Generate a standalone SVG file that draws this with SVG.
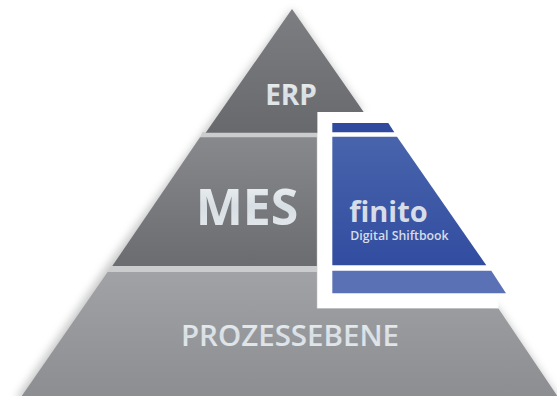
<svg xmlns="http://www.w3.org/2000/svg" width="557" height="396" viewBox="0 0 557 396">
<defs>
<linearGradient id="gErp" x1="0" y1="0" x2="0" y2="1"><stop offset="0" stop-color="#7d7e81"/><stop offset="1" stop-color="#68696c"/></linearGradient>
<linearGradient id="gMes" x1="0" y1="0" x2="0" y2="1"><stop offset="0" stop-color="#88898c"/><stop offset="1" stop-color="#6b6c6f"/></linearGradient>
<linearGradient id="gPro" x1="0" y1="0" x2="0" y2="1"><stop offset="0" stop-color="#a0a2a5"/><stop offset="1" stop-color="#8c8d91"/></linearGradient>
<linearGradient id="gBlue" x1="0" y1="0" x2="0" y2="1"><stop offset="0" stop-color="#4864ac"/><stop offset="1" stop-color="#324da0"/></linearGradient>
<linearGradient id="gText" x1="0" y1="0" x2="0" y2="1"><stop offset="0" stop-color="#f4f6f7"/><stop offset="0.5" stop-color="#d8dfe4"/><stop offset="1" stop-color="#e6ebee"/></linearGradient>
<filter id="soft" x="-10%" y="-10%" width="120%" height="120%"><feGaussianBlur stdDeviation="4"/></filter>
</defs>
<style>
text{font-family:"Open Sans","Noto Sans","Liberation Sans",sans-serif;font-weight:600;text-anchor:middle}
.lbl{fill:url(#gText)}
.fin{fill:#d6dde9}
</style>
<rect width="557" height="396" fill="#ffffff"/>
<path id="shadow" d="M292 9L363.7 112H340V290H470L498.4 308.6L560 400H15L104 270Z" fill="#8f9092" opacity="0.5" filter="url(#soft)"/>
<path d="M317.3 112H372L498.4 292V308.6H317.3Z" fill="#ffffff"/>
<path d="M317.3 132H202.5L200 137.5H316.8Z" fill="#cbcccd"/>
<path d="M316.8 266H112.3L107.6 272H316.8Z" fill="#cbcccd"/>
<g id="erp">
<path d="M292 9L363.7 112H317.3V132.7H205.7Z" fill="url(#gErp)"/>
<text class="lbl" x="291" y="105" font-size="28" style="font-weight:700">ERP</text>
</g>
<g id="mes">
<path d="M200 137.3H316.8V266H112.3Z" fill="url(#gMes)"/>
<text class="lbl" x="247" y="225" font-size="50" style="font-weight:700">MES</text>
</g>
<g id="prozessebene">
<path d="M107.6 272H316.8V308.6H498.4L560 400H19Z" fill="url(#gPro)"/>
<text class="lbl" x="290" y="346" font-size="29.5">PROZESSEBENE</text>
</g>
<g id="finito">
<path d="M332.3 123H388.3L394.3 132.3H332.3Z" fill="#2f4a9f"/>
<path d="M332.3 136.7H397L486.3 265.3H332.3Z" fill="url(#gBlue)"/>
<path d="M332.3 270.7H491.3L506 293.3H332.3Z" fill="#5b71b6"/>
<text class="fin" x="388.5" y="222" font-size="29" style="font-weight:700">finito</text>
<text class="fin" x="399.5" y="240" font-size="12.3">Digital Shiftbook</text>
</g>
<g id="connectors"></g>
</svg>
